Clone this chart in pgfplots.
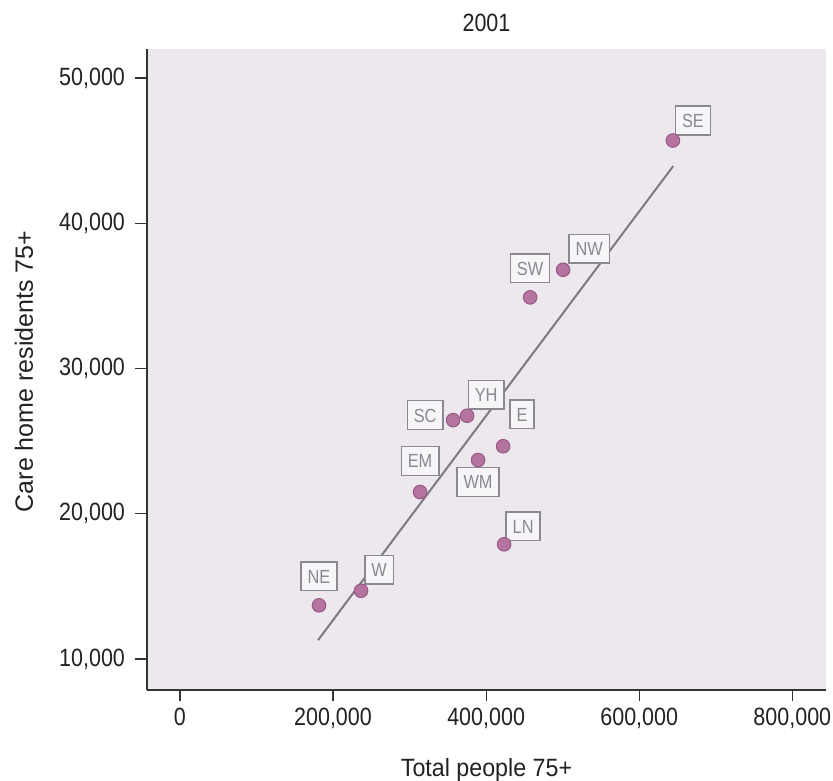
\documentclass[border=0pt]{standalone}
\usepackage{pgfplots}
\usepackage{pgfplotstable}
\pgfplotsset{compat=1.18}
\usepackage{fontspec}
\setmainfont{Liberation Sans}[FakeStretch=0.86]
\newfontfamily\ylabfont{Liberation Sans}
\newfontfamily\xlabfont{Liberation Sans}[FakeStretch=0.93]
\definecolor{bgc}{HTML}{EDE7EE}
\definecolor{axisc}{HTML}{333333}
\definecolor{tickc}{HTML}{222222}
\definecolor{labc}{HTML}{8A8A8E}
\definecolor{boxfill}{HTML}{F7F5F8}
\definecolor{ptfill}{HTML}{B5739F}
\definecolor{ptdraw}{HTML}{995A86}
\definecolor{linec}{HTML}{7C7A82}
\pgfplotstableread{
x y label dx dy
644000 45700 SE 20 20
500600 36800 NW 26 21
457500 34900 SW 0 29
356900 26450 SC -28 5
375200 26750 YH 19 21
422200 24650 E 19 32
389500 23700 WM 0 -22
313700 21500 EM 0 31
423500 17900 LN 19 18
181700 13700 NE 0 29
236600 14700 W 18 21
}\regions
\begin{document}
\begin{tikzpicture}
\path[use as bounding box] (-147pt,-91pt) rectangle (686pt,690pt);
\begin{axis}[
  at={(0pt,0pt)}, anchor=south west,
  scale only axis, width=679pt, height=641pt,
  xmin=-43000, xmax=844000, ymin=7870, ymax=52000,
  axis x line=bottom, axis y line=left,
  axis line style={-, draw=axisc, line width=1.3pt},
  xtick={0,200000,400000,600000,800000},
  xticklabels={0,{200,000},{400,000},{600,000},{800,000}},
  ytick={10000,20000,30000,40000,50000},
  yticklabels={{10,000},{20,000},{30,000},{40,000},{50,000}},
  tick align=outside, major tick length=11.5pt,
  tick style={draw=axisc, line width=1.2pt},
  scaled ticks=false,
  ticklabel style={font=\fontsize{25}{30}\selectfont, text=tickc},
  xticklabel style={yshift=-3pt},
  yticklabel style={xshift=-7pt},
  axis background/.style={fill=bgc},
  clip=false,
  title={2001},
  title style={at={(axis description cs:0.5,1.01716)}, anchor=base, font=\fontsize{25}{30}\selectfont, text=tickc},
  xlabel={Total people 75+},
  xlabel style={at={(axis description cs:0.5,-0.1342)}, anchor=base, font=\xlabfont\fontsize{25}{30}\selectfont, text=tickc},
  ylabel={Care home residents 75+},
  ylabel style={at={(axis description cs:-0.1679,0.497)}, anchor=base, font=\ylabfont\fontsize{25}{30}\selectfont, text=tickc},
]
\addplot[draw=none, mark=none,
  point meta=explicit symbolic,
  visualization depends on={\thisrow{dx} \as \dx},
  visualization depends on={\thisrow{dy} \as \dy},
  nodes near coords,
  every node near coord/.style={anchor=center, xshift=\dx pt, yshift=\dy pt,
    draw=labc, line width=1.4pt, fill=boxfill, text=labc,
    font=\fontsize{19}{22}\selectfont, inner xsep=6.5pt, inner ysep=7.5pt,
    text height=13.8pt, text depth=0pt},
] table[x=x, y=y, meta=label] {\regions};
\addplot[linec, line width=2pt, mark=none] coordinates {(180400,11300) (644400,43940)};
\addplot[only marks, mark=*, mark size=6.8pt, mark options={fill=ptfill, draw=ptdraw, line width=1pt}] table[x=x, y=y] {\regions};
\end{axis}
\end{tikzpicture}
\end{document}
